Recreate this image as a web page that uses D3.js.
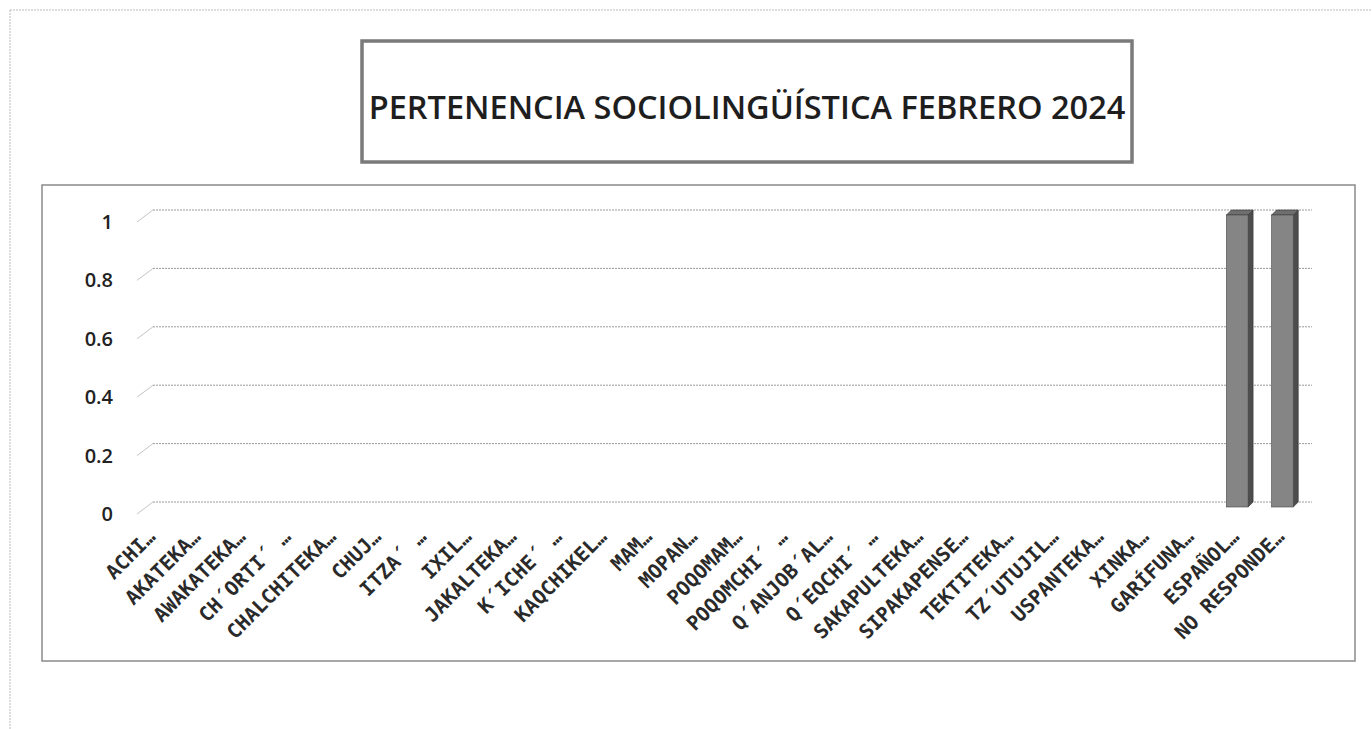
<!DOCTYPE html>
<meta charset="utf-8">
<title>Pertenencia sociolingüística</title>
<style>
    body { margin: 0; background: #fff; }
    .ytick { font-family: "Open Sans", sans-serif; font-size: 20px; font-weight: 600; fill: #222; }
    .xtick { font-family: "DejaVu Sans Mono", monospace; font-size: 20px; font-weight: bold; fill: #2a2a2a; }
    #title { font-family: "Open Sans", sans-serif; font-size: 32.5px; font-weight: 600; fill: #1e1e1e; text-anchor: middle; }
</style>

<body>
    <script src="https://d3js.org/d3.v7.min.js" charset="utf-8"></script>
    <script>
        // ---- data
        var categories = ["ACHI…", "AKATEKA…", "AWAKATEKA…", "CH´ORTI´ …", "CHALCHITEKA…", "CHUJ…",
            "ITZA´ …", "IXIL…", "JAKALTEKA…", "K´ICHE´ …", "KAQCHIKEL…", "MAM…", "MOPAN…",
            "POQOMAM…", "POQOMCHI´ …", "Q´ANJOB´AL…", "Q´EQCHI´ …", "SAKAPULTEKA…", "SIPAKAPENSE…",
            "TEKTITEKA…", "TZ´UTUJIL…", "USPANTEKA…", "XINKA…", "GARÍFUNA…", "ESPAÑOL…", "NO RESPONDE…"];
        var values = [0, 0, 0, 0, 0, 0, 0, 0, 0, 0, 0, 0, 0, 0, 0, 0, 0, 0, 0, 0, 0, 0, 0, 0, 1, 1];
        var yTicks = [0, 0.2, 0.4, 0.6, 0.8, 1];
        var titleText = "PERTENENCIA SOCIOLINGÜÍSTICA FEBRERO 2024";

        var width = 1372,
            height = 729;

        var svg = d3.select("body").append("svg")
            .attr("width", width)
            .attr("height", height);

        // page frame (only top/left visible)
        svg.append("rect")
            .attr("x", 10).attr("y", 10)
            .attr("width", 1400).attr("height", 800)
            .style("fill", "none")
            .style("stroke", "#bbb")
            .style("stroke-dasharray", "2,1");

        // title box
        svg.append("rect")
            .attr("x", 362).attr("y", 41)
            .attr("width", 770).attr("height", 121)
            .style("fill", "#fff")
            .style("stroke", "#7a7a7a")
            .style("stroke-width", 3.5);
        svg.append("text")
            .attr("id", "title")
            .attr("x", 747)
            .attr("y", 119)
            .text(titleText);

        // chart frame
        svg.append("rect")
            .attr("x", 42).attr("y", 185)
            .attr("width", 1313).attr("height", 476)
            .style("fill", "none")
            .style("stroke", "#8a8a8a")
            .style("stroke-width", 1.5);

        // 3D depth offset of the back wall
        var dx = 16, dy = -12;

        var y = d3.scaleLinear().domain([0, 1]).range([502, 210]);
        var x = d3.scaleBand().domain(categories)
            .range([131, 1305])
            .paddingInner(0.52)
            .paddingOuter(0.26);

        // gridlines on back wall with diagonal floor/side edge
        var grid = svg.append("g");
        yTicks.forEach(function (t) {
            grid.append("line")
                .attr("x1", 137 + dx).attr("x2", 1312)
                .attr("y1", y(t)).attr("y2", y(t))
                .style("stroke", "#9a9a9a")
                .style("stroke-dasharray", "2,1");
            grid.append("line")
                .attr("x1", 137).attr("y1", y(t) - dy)
                .attr("x2", 137 + dx).attr("y2", y(t))
                .style("stroke", "#c4c4c4");
            grid.append("text")
                .attr("class", "ytick")
                .attr("x", 113)
                .attr("y", y(t) - dy)
                .attr("dy", "0.35em")
                .attr("text-anchor", "end")
                .text(d3.format("~g")(t));
        });

        // bars (front face, side, top)
        var bd = 5; // bar depth
        var off = { x: 0, y: 5 };
        var bars = svg.append("g").selectAll("g")
            .data(categories.map(function (c, i) { return { cat: c, v: values[i] }; }))
            .enter().append("g")
            .style("opacity", function (d) { return d.v > 0 ? 1 : 0; });

        bars.append("path")
            .attr("d", function (d) {
                var x0 = x(d.cat) + off.x + x.bandwidth(), yt = y(d.v) + off.y, yb = y(0) + off.y;
                return "M" + x0 + "," + yt + "L" + (x0 + bd) + "," + (yt - bd) +
                    "L" + (x0 + bd) + "," + (yb - bd) + "L" + x0 + "," + yb + "Z";
            })
            .style("fill", "#4d4d4d")
            .style("stroke", "#333").style("stroke-width", 0.6);

        bars.append("path")
            .attr("d", function (d) {
                var x0 = x(d.cat) + off.x, x1 = x0 + x.bandwidth(), yt = y(d.v) + off.y;
                return "M" + x0 + "," + yt + "L" + (x0 + bd) + "," + (yt - bd) +
                    "L" + (x1 + bd) + "," + (yt - bd) + "L" + x1 + "," + yt + "Z";
            })
            .style("fill", "#6e6e6e")
            .style("stroke", "#333").style("stroke-width", 0.6);

        bars.append("rect")
            .attr("x", function (d) { return x(d.cat) + off.x; })
            .attr("y", function (d) { return y(d.v) + off.y; })
            .attr("width", x.bandwidth())
            .attr("height", function (d) { return y(0) - y(d.v); })
            .style("fill", "#858585")
            .style("stroke", "#444").style("stroke-width", 0.6);

        // category labels
        svg.append("g").selectAll("text")
            .data(categories)
            .enter().append("text")
            .attr("class", "xtick")
            .attr("text-anchor", "end")
            .attr("transform", function (d) {
                return "translate(" + (x(d) + x.bandwidth() / 2 + 3) + ",538) rotate(-45)";
            })
            .text(function (d) { return d; });
    </script>
